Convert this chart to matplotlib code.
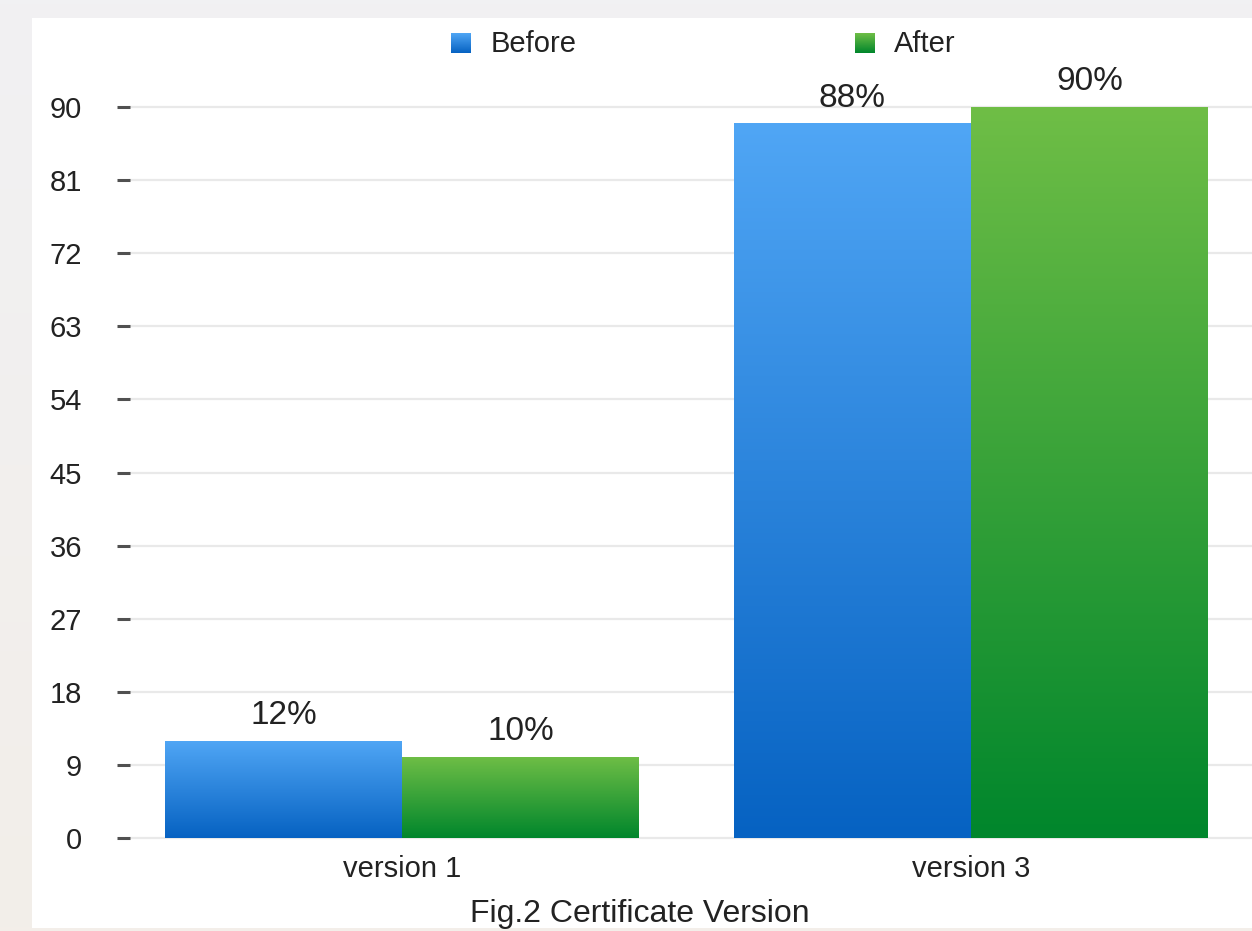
import numpy as np
import matplotlib
matplotlib.use("Agg")
import matplotlib.pyplot as plt
from matplotlib.colors import LinearSegmentedColormap
from matplotlib.patches import Rectangle

plt.rcParams['font.family'] = ['Liberation Sans', 'DejaVu Sans']

# Data
categories = ["version 1", "version 3"]
series_names = ["Before", "After"]
before_values = [12, 88]
after_values = [10, 90]
y_ticks = [0, 9, 18, 27, 36, 45, 54, 63, 72, 81, 90]
xlabel_text = "Fig.2 Certificate Version"

W, H = 1252, 931
DPI = 100
TEXT = "#222222"
fig = plt.figure(figsize=(W / DPI, H / DPI), dpi=DPI)
fig.patch.set_facecolor("#f2f2f4")

# Page background and white card, in pixel coordinates
bg = fig.add_axes([0, 0, 1, 1], zorder=-10)
bg.axis("off")
grad = np.linspace(0, 1, 256).reshape(-1, 1)
bg_cmap = LinearSegmentedColormap.from_list("page", ["#f1f1f3", "#f3eee9"])
bg.imshow(grad, extent=[0, W, H, 0], cmap=bg_cmap, aspect="auto", origin="upper", zorder=0)
bg.add_patch(Rectangle((32, 18), W - 32, 910, facecolor="white", edgecolor="none", zorder=1))

before_cmap = LinearSegmentedColormap.from_list("before", ["#0662c2", "#50a6f5"])
after_cmap = LinearSegmentedColormap.from_list("after", ["#00862c", "#6fbe46"])

ax_left, ax_bottom = 130 / W, (H - 838) / H
ax = fig.add_axes([ax_left, ax_bottom, 1 - ax_left, (838 - 107) / H])
ax.patch.set_alpha(0)

x = np.arange(len(categories))
width = 0.4165


def gradient_bars(xpos, values, cmap):
    bars = ax.bar(xpos, values, width, color="none", edgecolor="none", zorder=3)
    for b in bars:
        x0, y0 = b.get_x(), b.get_y()
        im = ax.imshow(grad, extent=[x0, x0 + b.get_width(), y0, y0 + b.get_height()],
                       cmap=cmap, aspect="auto", origin="lower", zorder=2)
        im.set_clip_path(b)
    return bars


bars_before = gradient_bars(x - width / 2, before_values, before_cmap)
bars_after = gradient_bars(x + width / 2, after_values, after_cmap)

for bars, vals in ((bars_before, before_values), (bars_after, after_values)):
    for b, v in zip(bars, vals):
        ax.annotate(f"{v}%", (b.get_x() + b.get_width() / 2, v),
                    xytext=(0, 7), textcoords="offset points",
                    ha="center", va="bottom", fontsize=24, color=TEXT)

ax.set_xlim(-0.478, 1.494)
ax.set_ylim(0, 90)
ax.set_yticks(y_ticks)
ax.set_yticklabels([str(t) for t in y_ticks])
ax.set_xticks(x)
ax.set_xticklabels(categories)
ax.grid(axis="y", color="#e9e9e9", linewidth=1.6, zorder=0)
for gl in ax.get_ygridlines():
    gl.set_clip_on(False)
ax.set_axisbelow(True)
for s in ax.spines.values():
    s.set_visible(False)
ax.tick_params(axis="y", direction="out", length=9.5, width=2.2, color="#505050",
               pad=25, labelsize=21, labelcolor=TEXT)
ax.tick_params(axis="x", length=0, pad=12, labelsize=21, labelcolor=TEXT)
ax.set_xlabel(xlabel_text, fontsize=23, color=TEXT)
ax.xaxis.set_label_coords((640 - 130) / (W - 130), -(914 - 838) / (838 - 107))
ax.xaxis.label.set_va("center")

# Legend with gradient swatches (light at the top, dark at the bottom)
def swatch(x0, cmap):
    r = Rectangle((x0, 33), 20, 20, facecolor="none", edgecolor="none", zorder=3)
    bg.add_patch(r)
    im = bg.imshow(grad, extent=[x0, x0 + 20, 53, 33], cmap=cmap, aspect="auto",
                   origin="lower", zorder=3)
    im.set_clip_path(r)


swatch(451, before_cmap)
swatch(855, after_cmap)
bg.text(491, 44, series_names[0], fontsize=21, color=TEXT, va="center", ha="left", zorder=4)
bg.text(894, 44, series_names[1], fontsize=21, color=TEXT, va="center", ha="left", zorder=4)
bg.set_xlim(0, W)
bg.set_ylim(H, 0)

fig.savefig("out.png", dpi=DPI, facecolor=fig.get_facecolor())
